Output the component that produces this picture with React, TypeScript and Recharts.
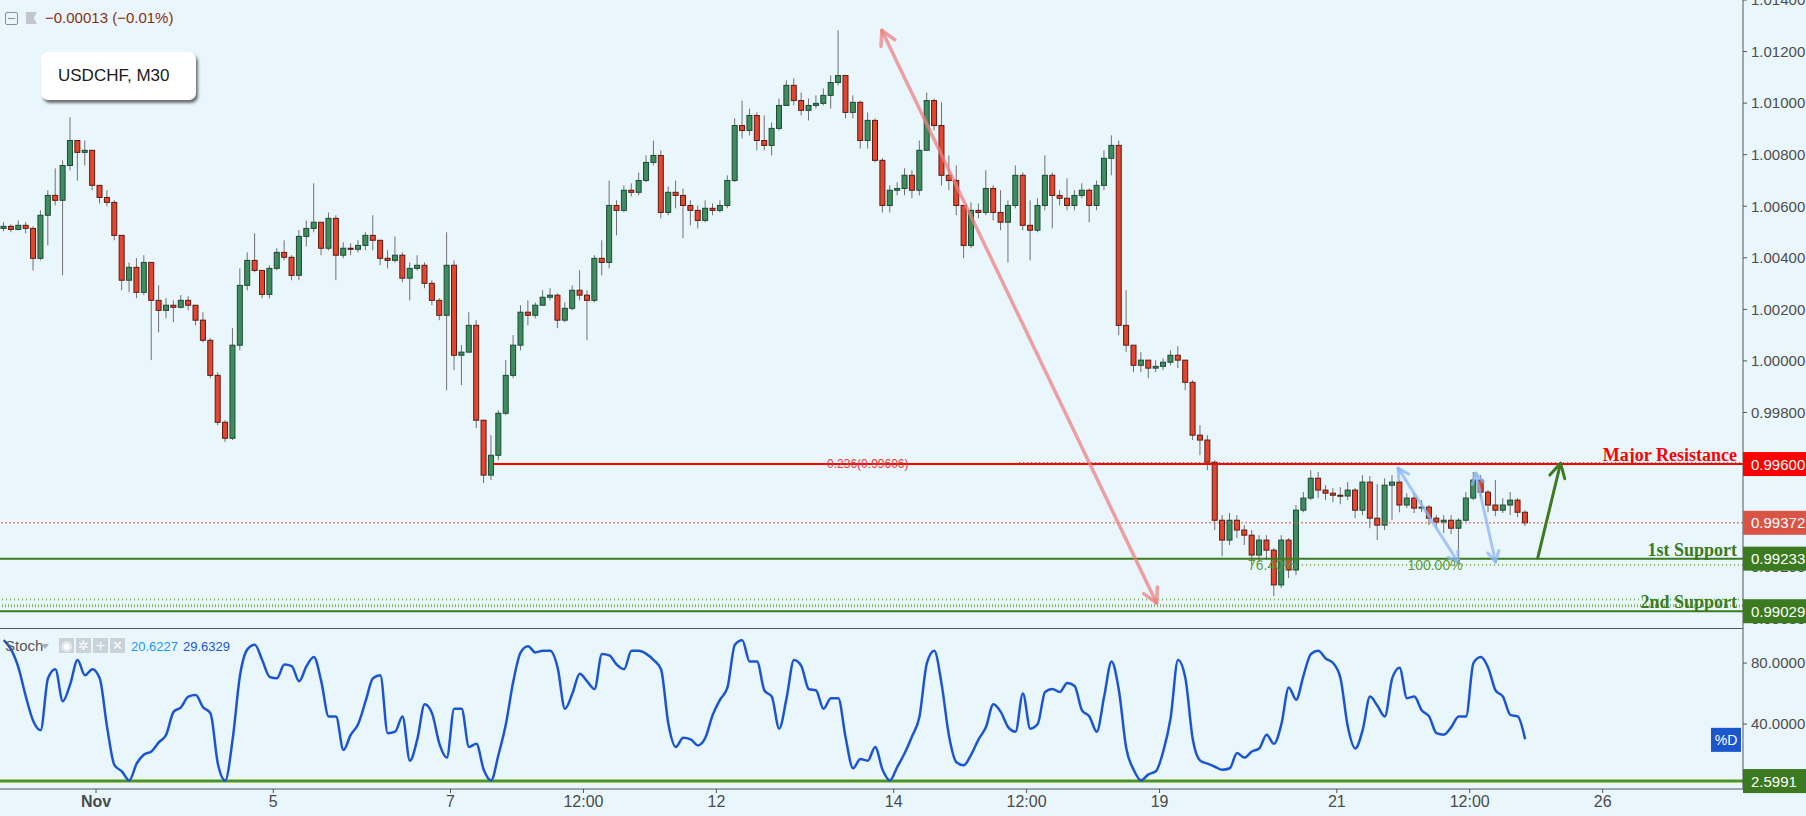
import React from 'react';
import { ComposedChart, LineChart, Line, Bar, XAxis, YAxis, ReferenceLine, ReferenceDot } from 'recharts';

// USDCHF M30, one candle per 2h slot (4 bars)
const firstOpen = 1.00514;
const closes = [
  1.00522, 1.0051, 1.00526, 1.00514, 1.00398, 1.00565, 1.00642, 1.00623, 1.00758, 1.00855,
  1.00809, 1.00817, 1.00681, 1.00634, 1.00615, 1.00487, 1.00313, 1.00363, 1.00266, 1.00382,
  1.00235, 1.00196, 1.00216, 1.00208, 1.00235, 1.00216, 1.00158, 1.0008, 0.99944, 0.99762,
  0.997, 1.00061, 1.00293, 1.0039, 1.00351, 1.00258, 1.00359, 1.00421, 1.00402, 1.00332,
  1.00483, 1.00514, 1.00538, 1.00437, 1.00553, 1.0041, 1.00437, 1.00433, 1.00448, 1.00487,
  1.00468, 1.00398, 1.0039, 1.0041, 1.00321, 1.00359, 1.00371, 1.00301, 1.00235, 1.00177,
  1.00371, 1.00022, 1.00034, 1.00138, 0.9977, 0.99557, 0.99634, 0.99797, 0.99944, 1.00061,
  1.00189, 1.00177, 1.00216, 1.00247, 1.00255, 1.00158, 1.00204, 1.00274, 1.00255, 1.00235,
  1.00398, 1.00382, 1.00603, 1.00584, 1.00662, 1.00654, 1.007, 1.0077, 1.00797, 1.00576,
  1.00654, 1.00642, 1.00603, 1.00584, 1.00545, 1.00592, 1.00584, 1.00603, 1.007, 1.00913,
  1.00894, 1.00952, 1.00855, 1.00836, 1.00902, 1.00991, 1.01069, 1.0101, 1.00972, 1.00991,
  1.00999, 1.0103, 1.0108, 1.01107, 1.00964, 1.01003, 1.00855, 1.00933, 1.00778, 1.00603,
  1.00662, 1.00669, 1.0072, 1.00662, 1.00817, 1.0101, 1.00913, 1.0072, 1.007, 1.00603,
  1.00448, 1.00584, 1.00576, 1.00669, 1.00576, 1.00538, 1.00603, 1.0072, 1.00526, 1.00507,
  1.00603, 1.0072, 1.00642, 1.00631, 1.00603, 1.00642, 1.00662, 1.00603, 1.00681, 1.00786,
  1.00836, 1.00138, 1.00061, 0.99983, 1.00003, 0.99972, 0.99979, 0.99995, 1.00022, 1.00003,
  0.99917, 0.99712, 0.99693, 0.99607, 0.99382, 0.99305, 0.99382, 0.99344, 0.99324, 0.99247,
  0.99305, 0.99266, 0.99131, 0.99305, 0.99189, 0.99421, 0.99468, 0.99545, 0.99499, 0.99487,
  0.99479, 0.99476, 0.99499, 0.99421, 0.9953, 0.9939, 0.99363, 0.99518, 0.9953, 0.99441,
  0.99468, 0.99429, 0.99433, 0.9939, 0.99375, 0.99382, 0.99351, 0.99382, 0.99468, 0.99538,
  0.99491, 0.99441, 0.99421, 0.99441, 0.9946, 0.99413, 0.99372,
];
const highs = [
  1.00538, 1.0053, 1.00545, 1.00538, 1.00522, 1.00584, 1.00662, 1.00747, 1.00778, 1.00945,
  1.00855, 1.00855, 1.00817, 1.00681, 1.00662, 1.00623, 1.00487, 1.00382, 1.00398, 1.0041,
  1.00382, 1.00293, 1.00243, 1.00235, 1.00255, 1.00251, 1.00216, 1.00189, 1.00088, 0.99956,
  0.9977, 1.00127, 1.00359, 1.00421, 1.00495, 1.00351, 1.00371, 1.00437, 1.00468, 1.0041,
  1.00507, 1.00545, 1.00689, 1.00538, 1.00576, 1.00565, 1.0046, 1.00456, 1.00468, 1.00499,
  1.00565, 1.00468, 1.00429, 1.00483, 1.00421, 1.00382, 1.0041, 1.00382, 1.00313, 1.00243,
  1.00499, 1.0039, 1.00061, 1.00189, 1.00158, 0.9977, 0.99712, 0.99809, 1.00003, 1.001,
  1.00216, 1.00235, 1.00227, 1.00274, 1.00282, 1.00262, 1.00227, 1.00293, 1.00351, 1.00274,
  1.0041, 1.00468, 1.007, 1.00623, 1.00681, 1.00689, 1.00731, 1.00797, 1.00855, 1.00817,
  1.00677, 1.007, 1.00669, 1.00623, 1.00603, 1.00623, 1.00611, 1.00623, 1.0072, 1.00941,
  1.0101, 1.00979, 1.00964, 1.00952, 1.00925, 1.01018, 1.01088, 1.01096, 1.01041, 1.01018,
  1.0103, 1.01057, 1.01107, 1.01282, 1.01096, 1.0103, 1.0101, 1.00964, 1.00941, 1.00786,
  1.00681, 1.00693, 1.00747, 1.00739, 1.00855, 1.01041, 1.01018, 1.01003, 1.00797, 1.00758,
  1.00603, 1.00615, 1.00611, 1.00739, 1.00681, 1.00662, 1.00623, 1.00758, 1.00731, 1.00623,
  1.00631, 1.00797, 1.00731, 1.00662, 1.00708, 1.00662, 1.00689, 1.00669, 1.007, 1.00817,
  1.00875, 1.00855, 1.00274, 1.00061, 1.00034, 1.00003, 1.00003, 1.0001, 1.00041, 1.00057,
  1.00003, 0.99925, 0.99751, 0.99712, 0.99615, 0.99402, 0.9941, 0.99402, 0.99363, 0.99344,
  0.99324, 0.99324, 0.99274, 0.99324, 0.99313, 0.99441, 0.99491, 0.99576, 0.99569, 0.99518,
  0.99507, 0.9951, 0.9953, 0.99507, 0.99557, 0.99553, 0.99522, 0.99545, 0.99557, 0.99538,
  0.99487, 0.99487, 0.9946, 0.99441, 0.99402, 0.99402, 0.99402, 0.9939, 0.99491, 0.99569,
  0.99557, 0.99499, 0.99538, 0.99468, 0.99491, 0.99468, 0.99421,
];
const lows = [
  1.00503, 1.00499, 1.00507, 1.00495, 1.00351, 1.0039, 1.00448, 1.00603, 1.00332, 1.00739,
  1.007, 1.00758, 1.00662, 1.00611, 1.006, 1.00468, 1.00274, 1.00266, 1.00243, 1.00255,
  1.00003, 1.00111, 1.00165, 1.0015, 1.00204, 1.00196, 1.00138, 1.00072, 0.99933, 0.99751,
  0.99685, 0.99693, 1.00041, 1.00274, 1.00344, 1.00243, 1.00243, 1.00351, 1.0039, 1.00313,
  1.00313, 1.00444, 1.00499, 1.0041, 1.00429, 1.00313, 1.00398, 1.0041, 1.00421, 1.00429,
  1.00429, 1.00371, 1.00359, 1.00382, 1.00305, 1.00235, 1.00351, 1.00282, 1.00216, 1.00158,
  0.99886, 0.99964, 0.99906, 1.00041, 0.99739, 0.99526, 0.99538, 0.99615, 0.99789, 0.99933,
  1.00041, 1.00138, 1.00165, 1.00216, 1.00235, 1.00127, 1.0015, 1.00196, 1.00235, 1.0008,
  1.00227, 1.00332, 1.00359, 1.00487, 1.00576, 1.00638, 1.00642, 1.00693, 1.00758, 1.00553,
  1.00565, 1.00592, 1.00476, 1.00526, 1.00514, 1.00538, 1.00565, 1.00576, 1.00592, 1.00693,
  1.00863, 1.00875, 1.00817, 1.00817, 1.00797, 1.00894, 1.00991, 1.00991, 1.00952, 1.00933,
  1.00979, 1.00991, 1.00979, 1.01069, 1.00941, 1.00941, 1.00824, 1.00824, 1.0077, 1.00576,
  1.00576, 1.00642, 1.00642, 1.00631, 1.00642, 1.00817, 1.00894, 1.00681, 1.00662, 1.00565,
  1.00398, 1.00437, 1.00553, 1.00565, 1.00545, 1.00507, 1.00382, 1.00592, 1.00507, 1.0039,
  1.00499, 1.00584, 1.00514, 1.00603, 1.00584, 1.00584, 1.00631, 1.00538, 1.00584, 1.00662,
  1.0072, 1.001, 1.00034, 0.99956, 0.99956, 0.99933, 0.99956, 0.99964, 0.99983, 0.99972,
  0.99886, 0.99693, 0.99634, 0.99576, 0.99344, 0.99243, 0.99286, 0.99313, 0.99286, 0.99208,
  0.9922, 0.99227, 0.99088, 0.99119, 0.99158, 0.99169, 0.99413, 0.9946, 0.99468, 0.9946,
  0.99452, 0.99444, 0.9946, 0.9939, 0.99402, 0.99351, 0.99305, 0.99344, 0.99382, 0.99413,
  0.99429, 0.9941, 0.99413, 0.99363, 0.99351, 0.99332, 0.99328, 0.99216, 0.99375, 0.9946,
  0.99472, 0.99413, 0.99398, 0.9941, 0.99402, 0.99394, 0.99359,
];
// Stochastic %D, same slots
const stochD = [
  95, 89, 77, 58, 42, 36, 70, 76, 55, 66,
  82, 72, 76, 70, 38, 13, 9, 3, 14, 20,
  22, 28, 33, 48, 51, 58, 59, 51, 47, 14,
  3, 30, 72, 89, 92, 82, 71, 70, 79, 78,
  68, 78, 84, 68, 45, 45, 23, 33, 40, 55,
  70, 72, 34, 35, 45, 16, 30, 53, 47, 27,
  18, 50, 50, 25, 27, 10, 3, 20, 40, 68,
  87, 91, 87, 88, 88, 77, 50, 60, 73, 68,
  63, 86, 85, 79, 76, 88, 88, 86, 82, 76,
  40, 25, 31, 30, 26, 31, 46, 56, 64, 92,
  95, 81, 81, 62, 58, 37, 57, 82, 78, 63,
  62, 50, 57, 57, 31, 11, 17, 16, 25, 10,
  3, 12, 21, 32, 45, 80, 88, 66, 32, 15,
  13, 20, 30, 38, 53, 48, 38, 35, 60, 37,
  40, 61, 63, 61, 67, 65, 49, 45, 35, 58,
  81, 62, 24, 10, 3, 7, 9, 22, 44, 82,
  70, 30, 16, 14, 12, 10, 11, 21, 18, 22,
  24, 33, 27, 40, 64, 56, 72, 86, 88, 83,
  80, 70, 38, 24, 36, 58, 52, 45, 70, 77,
  57, 58, 49, 45, 34, 33, 38, 45, 45, 80,
  84, 77, 62, 58, 46, 45, 30,
];

const priceTicks = [0.99, 0.992, 0.994, 0.996, 0.998, 1.0, 1.002, 1.004, 1.006, 1.008, 1.01, 1.012, 1.014];
const stochTicks = [40, 80];
const dayTicks = [13, 37, 61, 79, 97, 121, 139, 157, 181, 199, 217];
const dayLabels = ['Nov', '5', '7', '12:00', '12', '14', '12:00', '19', '21', '12:00', '26'];

const SLOTS = 236;
const PRICE_DOMAIN = [0.98964, 1.014];
const BG = '#e9f7fd';
const AXIS = '#555';
const SANS = 'Liberation Sans, Arial, sans-serif';
const SERIF = 'Liberation Serif, serif';

const candles = closes.map((c, i) => {
  const o = i === 0 ? firstOpen : closes[i - 1];
  const hi = Math.max(highs[i], o, c);
  const lo = Math.min(lows[i], o, c);
  return { x: i + 0.5, open: o, close: c, high: hi, low: lo, range: [lo, hi] };
});
const stochData = stochD.map((v, i) => ({ x: i + 0.5, d: v }));

const Candle = (props: any) => {
  const { x, y, width, height, payload } = props;
  if (!payload) return null;
  const { open, close, high, low } = payload;
  const top = Math.min(y, y + height);
  const bottom = Math.max(y, y + height);
  const toPx = (v: number) => top + ((high - v) / (high - low)) * (bottom - top);
  const up = close >= open;
  const yo = toPx(open);
  const yc = toPx(close);
  const cx = x + width / 2;
  return (
    <g>
      <line x1={cx} x2={cx} y1={top} y2={bottom} stroke="#707070" strokeWidth={1} />
      <rect
        x={x}
        y={Math.min(yo, yc)}
        width={width}
        height={Math.max(1, Math.abs(yc - yo))}
        fill={up ? '#3f8d5e' : '#e2462e'}
        stroke={up ? '#1d4a32' : '#5e1a12'}
        strokeWidth={1}
      />
    </g>
  );
};

const LevelTag = (props: any) => {
  const { viewBox, text, bg, name, color } = props;
  if (!viewBox) return null;
  const right = viewBox.x + viewBox.width;
  const y = viewBox.y;
  return (
    <g>
      {name && (
        <text x={right - 6} y={y - 3} textAnchor="end" fill={color} fontFamily={SERIF} fontWeight="bold" fontSize={18}>
          {name}
        </text>
      )}
      <rect x={right} y={y - 12} width={64} height={24} fill={bg} />
      <text x={right + 8} y={y + 5.5} fill="#fff" fontSize={15} fontFamily={SANS}>
        {text}
      </text>
    </g>
  );
};

const arrowShape = (color: string, w: number, both: boolean, len = 14) => (p: any) => {
  const { x1, y1, x2, y2 } = p;
  const a = Math.atan2(y2 - y1, x2 - x1);
  const head = (hx: number, hy: number, ang: number) => {
    const s = 0.5;
    return `M${hx - len * Math.cos(ang - s)},${hy - len * Math.sin(ang - s)} L${hx},${hy} L${hx - len * Math.cos(ang + s)},${hy - len * Math.sin(ang + s)}`;
  };
  return (
    <g fill="none" stroke={color} strokeWidth={w} strokeLinecap="round" strokeLinejoin="round">
      <line x1={x1} y1={y1} x2={x2} y2={y2} />
      <path d={head(x2, y2, a)} />
      {both && <path d={head(x1, y1, a + Math.PI)} />}
    </g>
  );
};

const textDot = (label: string, color: string, size: number) => (p: any) => (
  <text x={p.cx} y={p.cy + size * 0.36} textAnchor="middle" fill={color} fontSize={size} fontFamily={SANS}>
    {label}
  </text>
);

const DayTick = (props: any) => {
  const { x, y, payload } = props;
  const i = dayTicks.indexOf(payload.value);
  const label = dayLabels[i] ?? '';
  return (
    <text x={x} y={y + 12} textAnchor="middle" fill="#4a4a4a" fontSize={16} fontFamily={SANS} fontWeight={label === 'Nov' ? 'bold' : 'normal'}>
      {label}
    </text>
  );
};

const iconBox: React.CSSProperties = {
  position: 'absolute', top: 638, width: 15, height: 15, background: '#c9d2d8', color: '#fff',
  fontSize: 13, lineHeight: '15px', textAlign: 'center', fontFamily: 'DejaVu Sans, sans-serif',
};

export default function App() {
  return (
    <div style={{ position: 'absolute', left: 0, top: 0, width: 1806, height: 816, background: BG, overflow: 'hidden', fontFamily: SANS }}>
      <div style={{ position: 'absolute', left: 0, top: 0 }}>
        <ComposedChart width={1806} height={628} data={candles} margin={{ top: 0, right: 0, bottom: 0, left: 0 }}>
          <XAxis type="number" dataKey="x" domain={[0, SLOTS]} hide allowDataOverflow />
          <YAxis
            orientation="right"
            domain={PRICE_DOMAIN}
            ticks={priceTicks}
            interval={0}
            width={63}
            allowDataOverflow
            tickFormatter={(v: number) => v.toFixed(5)}
            tick={{ fill: '#4d4d4d', fontSize: 15, fontFamily: SANS }}
            axisLine={{ stroke: AXIS }}
            tickLine={{ stroke: AXIS }}
            tickSize={4}
            tickMargin={4}
          />
          {/* support / resistance zone lines */}
          <ReferenceLine y={0.99075} stroke="#7fb25e" strokeWidth={2} strokeDasharray="1 3" />
          <ReferenceLine y={0.9905} stroke="#7fb25e" strokeWidth={3} strokeDasharray="1 2" />
          <ReferenceLine y={0.99029} stroke="#3b7a1e" strokeWidth={2} />
          <ReferenceLine
            segment={[{ x: 176.3, y: 0.99208 }, { x: SLOTS, y: 0.99208 }]}
            stroke="#7fb25e"
            strokeWidth={2}
            strokeDasharray="1 3"
          />
          <ReferenceLine y={0.99233} stroke="#3b7a1e" strokeWidth={2} />
          <ReferenceLine y={0.99372} stroke="#d9534f" strokeWidth={1} strokeDasharray="2 2" />
          <ReferenceLine
            segment={[{ x: 138, y: 0.99604 }, { x: SLOTS, y: 0.99604 }]}
            stroke="#ff2020"
            strokeWidth={2}
            strokeDasharray="1 3"
          />
          <ReferenceLine segment={[{ x: 66.8, y: 0.996 }, { x: SLOTS, y: 0.996 }]} stroke="#ff0000" strokeWidth={2} />
          <Bar dataKey="range" shape={<Candle />} barSize={5} isAnimationActive={false} />
          {/* drawn arrows */}
          <ReferenceLine
            segment={[{ x: 119.4, y: 1.01282 }, { x: 156.6, y: 0.99061 }]}
            shape={arrowShape('rgba(236,128,128,0.75)', 3.5, true, 16)}
          />
          <ReferenceLine
            segment={[{ x: 189.3, y: 0.99584 }, { x: 197.5, y: 0.99216 }]}
            shape={arrowShape('rgba(140,180,245,0.75)', 3, true, 12)}
          />
          <ReferenceLine
            segment={[{ x: 199.8, y: 0.99565 }, { x: 202.5, y: 0.9922 }]}
            shape={arrowShape('rgba(140,180,245,0.75)', 3, true, 12)}
          />
          <ReferenceLine
            segment={[{ x: 208.2, y: 0.99235 }, { x: 211.3, y: 0.99603 }]}
            shape={arrowShape('#3b7a1e', 3, false, 16)}
          />
          <ReferenceDot x={117.5} y={0.996} r={1} shape={textDot('0.236(0.99606)', '#e53935', 12)} />
          <ReferenceDot x={172.2} y={0.99208} r={1} shape={textDot('76.40%', '#5d9a3c', 14)} />
          <ReferenceDot x={194.3} y={0.99208} r={1} shape={textDot('100.00%', '#5d9a3c', 14)} />
        </ComposedChart>
      </div>

      {/* price tags and level names, laid over the axis with the same scales */}
      <div style={{ position: 'absolute', left: 0, top: 0 }}>
        <ComposedChart width={1806} height={628} data={candles} margin={{ top: 0, right: 0, bottom: 0, left: 0 }}>
          <XAxis type="number" dataKey="x" domain={[0, SLOTS]} hide allowDataOverflow />
          <YAxis orientation="right" domain={PRICE_DOMAIN} width={63} allowDataOverflow tick={false} axisLine={false} tickLine={false} />
          <ReferenceLine y={0.99029} stroke="none" label={<LevelTag text="0.99029" bg="#3b7a1e" name="2nd Support" color="#3b7a1e" />} />
          <ReferenceLine y={0.99233} stroke="none" label={<LevelTag text="0.99233" bg="#3b7a1e" name="1st Support" color="#3b7a1e" />} />
          <ReferenceLine y={0.99372} stroke="none" label={<LevelTag text="0.99372" bg="#d95444" />} />
          <ReferenceLine y={0.996} stroke="none" label={<LevelTag text="0.99600" bg="#ff0000" name="Major Resistance" color="#ff0000" />} />
        </ComposedChart>
      </div>

      <div style={{ position: 'absolute', left: 0, top: 628, width: 1743, height: 1, background: AXIS }} />

      <div style={{ position: 'absolute', left: 0, top: 628 }}>
        <LineChart width={1806} height={188} data={stochData} margin={{ top: 0, right: 0, bottom: 0, left: 0 }}>
          <XAxis
            type="number"
            dataKey="x"
            domain={[0, SLOTS]}
            ticks={dayTicks}
            interval={0}
            allowDataOverflow
            height={27}
            tick={<DayTick />}
            axisLine={{ stroke: AXIS }}
            tickLine={{ stroke: AXIS }}
            tickSize={4}
          />
          <YAxis
            orientation="right"
            domain={[-2.6, 103]}
            ticks={stochTicks}
            interval={0}
            width={63}
            allowDataOverflow
            tickFormatter={(v: number) => v.toFixed(4)}
            tick={{ fill: '#4d4d4d', fontSize: 15, fontFamily: SANS }}
            axisLine={{ stroke: AXIS }}
            tickLine={{ stroke: AXIS }}
            tickSize={4}
            tickMargin={4}
          />
          <ReferenceLine y={2.5991} stroke="#9ccc70" strokeWidth={4} />
          <ReferenceLine y={2.5991} stroke="#3b7a1e" strokeWidth={1.5} label={<LevelTag text="2.5991" bg="#3b7a1e" />} />
          <Line type="monotone" dataKey="d" stroke="#1c55d0" strokeWidth={2.5} dot={false} isAnimationActive={false} />
          <ReferenceDot
            x={SLOTS}
            y={29.6329}
            r={1}
            shape={(p: any) => (
              <g>
                <rect x={p.cx - 32} y={p.cy - 12} width={30} height={24} fill="#1a56cc" />
                <text x={p.cx - 17} y={p.cy + 5} textAnchor="middle" fill="#fff" fontSize={14} fontFamily={SANS}>
                  %D
                </text>
              </g>
            )}
          />
        </LineChart>
      </div>

      {/* header: change readout */}
      <div style={{ position: 'absolute', left: 5, top: 12, width: 11, height: 11, border: '1px solid #8a8f96', borderRadius: 2 }}>
        <div style={{ position: 'absolute', left: 2, top: 5, width: 7, height: 1, background: '#8a8f96' }} />
      </div>
      <div style={{ position: 'absolute', left: 26, top: 12, width: 11, height: 12, background: '#c3c7cd', clipPath: 'polygon(0 0,100% 0,70% 50%,100% 100%,0 100%)' }} />
      <div style={{ position: 'absolute', left: 45, top: 9, fontSize: 15, color: '#8a2e12', fontFamily: SANS }}>−0.00013 (−0.01%)</div>

      {/* symbol box */}
      <div
        style={{
          position: 'absolute', left: 41, top: 52, width: 155, height: 48, background: '#fff', borderRadius: 7,
          boxShadow: '2px 3px 3px rgba(0,0,0,0.55)', fontSize: 17, color: '#1a1a1a', lineHeight: '48px', paddingLeft: 17,
          boxSizing: 'border-box', fontFamily: SANS,
        }}
      >
        USDCHF, M30
      </div>

      {/* stoch header */}
      <div style={{ position: 'absolute', left: 5, top: 637, fontSize: 15, color: '#555', fontFamily: SANS }}>Stoch</div>
      <div style={{ position: 'absolute', left: 41, top: 644, width: 0, height: 0, borderLeft: '4px solid transparent', borderRight: '4px solid transparent', borderTop: '5px solid #aab' }} />
      <div style={{ ...iconBox, left: 59 }}>◉</div>
      <div style={{ ...iconBox, left: 76 }}>✲</div>
      <div style={{ ...iconBox, left: 93 }}>+</div>
      <div style={{ ...iconBox, left: 110 }}>✕</div>
      <div style={{ position: 'absolute', left: 131, top: 639, fontSize: 13, color: '#2196f3', fontFamily: SANS }}>20.6227</div>
      <div style={{ position: 'absolute', left: 183, top: 639, fontSize: 13, color: '#1c55d0', fontFamily: SANS }}>29.6329</div>
    </div>
  );
}
